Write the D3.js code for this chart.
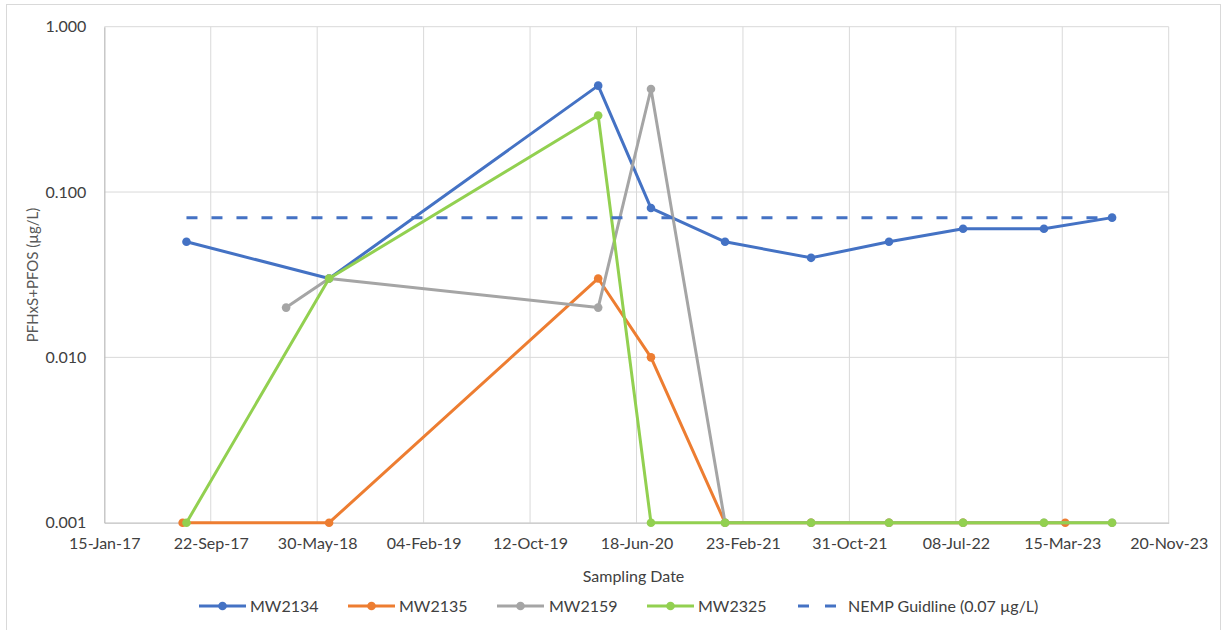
<!DOCTYPE html>
<html><head><meta charset="utf-8">
<script src="https://cdn.jsdelivr.net/npm/d3@7"></script>
<style>
html,body{margin:0;padding:0;background:#fff;}
svg text{font-family:"Lato","Open Sans",sans-serif;}
</style></head>
<body>
<svg id="chart" width="1227" height="630"></svg>
<script>
// ---- data ----
const xTickDates = ["2017-01-15","2017-09-22","2018-05-30","2019-02-04","2019-10-12","2020-06-18","2021-02-23","2021-10-31","2022-07-08","2023-03-15","2023-11-20"];
const xTickLabels = ["15-Jan-17","22-Sep-17","30-May-18","04-Feb-19","12-Oct-19","18-Jun-20","23-Feb-21","31-Oct-21","08-Jul-22","15-Mar-23","20-Nov-23"];
const yTicks = [0.001, 0.01, 0.1, 1];
const yTickLabels = ["0.001","0.010","0.100","1.000"];

const mw2134Dates = ["2017-07-27","2018-06-27","2020-03-20","2020-07-22","2021-01-12","2021-08-02","2022-02-01","2022-07-25","2023-01-31","2023-07-10"];
const mw2134Values = [0.05,0.03,0.44,0.08,0.05,0.04,0.05,0.06,0.06,0.07];

const mw2135Dates = ["2017-07-18","2018-06-27","2020-03-20","2020-07-22","2021-01-12","2021-08-02","2022-02-01","2022-07-25","2023-03-22"];
const mw2135Values = [0.001,0.001,0.03,0.01,0.001,0.001,0.001,0.001,0.001];

const mw2159Dates = ["2018-03-18","2018-06-27","2020-03-20","2020-07-22","2021-01-12","2021-08-02","2022-02-01","2022-07-25","2023-01-31","2023-07-10"];
const mw2159Values = [0.02,0.03,0.02,0.42,0.001,0.001,0.001,0.001,0.001,0.001];

const mw2325Dates = ["2017-07-27","2018-06-27","2020-03-20","2020-07-22","2021-01-12","2021-08-02","2022-02-01","2022-07-25","2023-01-31","2023-07-10"];
const mw2325Values = [0.001,0.03,0.29,0.001,0.001,0.001,0.001,0.001,0.001,0.001];

const nempDates = ["2017-07-27","2023-07-10"];
const nempValues = [0.07,0.07];

const seriesNames = ["MW2134","MW2135","MW2159","MW2325","NEMP Guidline (0.07 µg/L)"];
const seriesColors = ["#4472C4","#ED7D31","#A5A5A5","#92D050","#4472C4"];

// ---- layout ----
const svg = d3.select("#chart");
const L = 104.3, R = 1168.7, T = 26.7, B = 522.7;
const parse = d3.utcParse("%Y-%m-%d");

const x = d3.scaleUtc().domain([parse(xTickDates[0]), parse(xTickDates[xTickDates.length-1])]).range([L, R]);
const y = d3.scaleLog().domain([0.001, 1]).range([B, T]);

// chart border
svg.append("rect").attr("x",6.5).attr("y",4.5).attr("width",1214).attr("height",640)
  .attr("fill","none").attr("stroke","#d9d9d9").attr("stroke-width",1);

// gridlines
const g = svg.append("g");
g.selectAll("line.vx").data(xTickDates.slice(1)).join("line")
  .attr("x1",d=>x(parse(d))).attr("x2",d=>x(parse(d))).attr("y1",T).attr("y2",B)
  .attr("stroke","#d9d9d9").attr("stroke-width",1);
g.selectAll("line.hy").data(yTicks.slice(1)).join("line")
  .attr("x1",L).attr("x2",R).attr("y1",d=>y(d)).attr("y2",d=>y(d))
  .attr("stroke","#d9d9d9").attr("stroke-width",1);

// axes
const xAxis = d3.axisBottom(x).tickValues(xTickDates.map(parse)).tickFormat((d,i)=>xTickLabels[i]).tickSize(0).tickPadding(18);
const xa = svg.append("g").attr("transform",`translate(0,${B})`).call(xAxis);
xa.select(".domain").attr("stroke","#bfbfbf").attr("stroke-width",1.3);
xa.selectAll("text").attr("font-size",16).attr("fill","#404040").attr("dy","0.5em");

const yAxis = d3.axisLeft(y).tickValues(yTicks).tickFormat((d,i)=>yTickLabels[i]).tickSize(0).tickPadding(18);
const ya = svg.append("g").attr("transform",`translate(${L},0)`).call(yAxis);
ya.select(".domain").attr("stroke","#bfbfbf").attr("stroke-width",1.3);
ya.selectAll("text").attr("font-size",16).attr("fill","#404040");

// axis titles
svg.append("text").attr("x",(L+R)/2 - 3).attr("y",576).attr("dy","0.35em").attr("text-anchor","middle")
  .attr("font-size",16).attr("fill","#404040").text("Sampling Date");
svg.append("text").attr("transform","translate(33,275) rotate(-90)").attr("dy","0.35em").attr("text-anchor","middle")
  .attr("font-size",15).attr("fill","#595959").text("PFHxS+PFOS (µg/L)");

// series
const line = d3.line().x(d=>x(d.date)).y(d=>y(d.v));
function build(dates, vals){ return dates.map((d,i)=>({date:parse(d), v:vals[i]})); }
const series = [
  build(mw2134Dates, mw2134Values),
  build(mw2135Dates, mw2135Values),
  build(mw2159Dates, mw2159Values),
  build(mw2325Dates, mw2325Values)
];
series.forEach((s,i)=>{
  const sg = svg.append("g");
  sg.append("path").datum(s).attr("d",line).attr("fill","none")
    .attr("stroke",seriesColors[i]).attr("stroke-width",3).attr("stroke-linejoin","round");
  sg.selectAll("circle").data(s).join("circle")
    .attr("cx",d=>x(d.date)).attr("cy",d=>y(d.v)).attr("r",4.3).attr("fill",seriesColors[i]);
});
// NEMP guideline
svg.append("path").datum(build(nempDates, nempValues)).attr("d",line).attr("fill","none")
  .attr("stroke",seriesColors[4]).attr("stroke-width",3).attr("stroke-dasharray","11,14");

// legend
const legY = 606;
const legItems = [
  {x0:199, tx:250},
  {x0:348, tx:399},
  {x0:497, tx:549},
  {x0:647, tx:698},
  {x0:794, tx:848}
];
legItems.forEach((it,i)=>{
  const lg = svg.append("g");
  if(i<4){
    lg.append("line").attr("x1",it.x0).attr("x2",it.x0+47).attr("y1",legY).attr("y2",legY)
      .attr("stroke",seriesColors[i]).attr("stroke-width",3);
    lg.append("circle").attr("cx",it.x0+23.5).attr("cy",legY).attr("r",4.3).attr("fill",seriesColors[i]);
  } else {
    lg.append("line").attr("x1",it.x0+4).attr("x2",it.x0+44).attr("y1",legY).attr("y2",legY)
      .attr("stroke",seriesColors[i]).attr("stroke-width",3).attr("stroke-dasharray","11,16");
  }
  lg.append("text").attr("x",it.tx).attr("y",legY).attr("dy","0.35em")
    .attr("font-size",16).attr("fill","#404040").text(seriesNames[i]);
});
</script>
</body></html>
